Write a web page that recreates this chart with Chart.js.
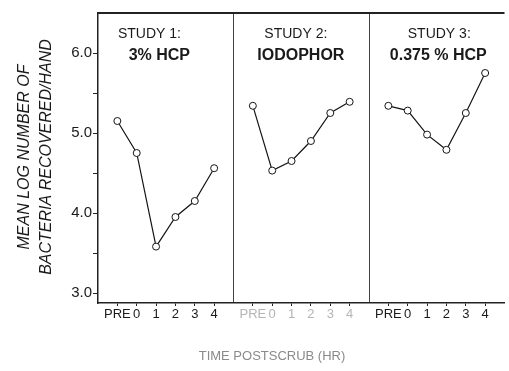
<!DOCTYPE html>
<html><head><meta charset="utf-8">
<script src="https://cdn.jsdelivr.net/npm/chart.js@4"></script>
<style>html,body{margin:0;padding:0;background:#fff;}#wrap{width:509px;height:371px;position:relative;}</style>
</head><body><div id="wrap"><canvas id="c"></canvas></div>
<script>
// ---- data ----
const timeLabels = ["PRE","0","1","2","3","4"];
const study1 = [5.15,4.75,3.58,3.95,4.15,4.56];
const study2 = [5.34,4.53,4.65,4.90,5.25,5.39];
const study3 = [5.34,5.28,4.98,4.79,5.25,5.75];
const panelTitles = ["STUDY 1:","STUDY 2:","STUDY 3:"];
const panelAgents = ["3% HCP","IODOPHOR","0.375 % HCP"];
const yTicks = [3.0,3.5,4.0,4.5,5.0,5.5,6.0];
const yTitle = ["MEAN LOG NUMBER OF","BACTERIA RECOVERED/HAND"];
const xTitle = "TIME POSTSCRUB (HR)";

// ---- layout helpers ----
const SPAN = 7;            // x units per panel (6 points + gap)
const series = [study1, study2, study3];
const FONT = "'Liberation Sans', Arial, sans-serif";
const titleOffsets = [[1.66,2.17],[2.22,2.48],[2.63,2.58]];

const datasets = series.map((s,p)=>({
  data: s.map((v,j)=>({x:p*SPAN+j, y:v})),
  borderColor:'#151515', borderWidth:1.2,
  pointRadius:3.5, pointHoverRadius:3.5,
  pointBackgroundColor:'#fff', pointBorderColor:'#151515', pointBorderWidth:1,
  tension:0, fill:false
}));

const textPlugin = {
  id:'texts',
  afterDraw(chart){
    const ctx = chart.ctx, ca = chart.chartArea, xs = chart.scales.x;
    ctx.save();
    // top border
    ctx.strokeStyle='#222'; ctx.lineWidth=2;
    ctx.beginPath(); ctx.moveTo(ca.left, ca.top); ctx.lineTo(ca.right, ca.top); ctx.stroke();
    // panel titles
    ctx.fillStyle='#1a1a1a'; ctx.textAlign='center'; ctx.textBaseline='alphabetic';
    for(let p=0;p<3;p++){
      ctx.font = "14px "+FONT;
      ctx.fillText(panelTitles[p], xs.getPixelForValue(p*SPAN+titleOffsets[p][0]), ca.top+25);
      ctx.font = "bold 16px "+FONT;
      ctx.fillText(panelAgents[p], xs.getPixelForValue(p*SPAN+titleOffsets[p][1]), ca.top+47);
    }
    // y title
    ctx.font = "italic 16px "+FONT;
    ctx.textBaseline='middle';
    ctx.translate(0, 157); ctx.rotate(-Math.PI/2);
    ctx.fillText(yTitle[0], 0, 25);
    ctx.fillText(yTitle[1], 0, 47);
    ctx.restore();
    // x title
    ctx.save();
    ctx.font = "13px "+FONT; ctx.fillStyle='#8a8a8a';
    ctx.textAlign='center'; ctx.textBaseline='middle';
    ctx.fillText(xTitle, 272, 356);
    ctx.restore();
  }
};

new Chart(document.getElementById('c'), {
  type:'line',
  data:{datasets},
  plugins:[textPlugin],
  options:{
    responsive:true, maintainAspectRatio:false, animation:false,
    layout:{padding:{top:13,left:0,right:0,bottom:0}},
    plugins:{legend:{display:false}, tooltip:{enabled:false}},
    scales:{
      x:{
        type:'linear', min:-1, max:3*SPAN-1,
        afterBuildTicks(scale){
          const t=[];
          for(let p=0;p<3;p++){
            timeLabels.forEach((l,j)=>t.push({value:p*SPAN+j}));
            if(p<2) t.push({value:p*SPAN+6});
          }
          scale.ticks=t;
        },
        afterFit(scale){ scale.height = 68; },
        ticks:{
          autoSkip:false, maxRotation:0, padding:1,
          font:{family:FONT, size:13},
          color:(c)=> (Math.floor(c.tick.value/SPAN)===1 ? '#b5b5b5' : '#1a1a1a'),
          callback:(v)=> { const j=((v%SPAN)+SPAN)%SPAN; return j<timeLabels.length ? timeLabels[j] : ''; }
        },
        grid:{
          drawOnChartArea:true, tickLength:3,
          color:(c)=> (c.tick && c.tick.value%SPAN===6 ? '#444' : 'rgba(0,0,0,0)'),
          tickColor:(c)=> (c.tick && c.tick.value%SPAN===6 ? 'rgba(0,0,0,0)' : '#222'),
          lineWidth:1
        },
        border:{display:true, color:'#222', width:1.5}
      },
      y:{
        type:'linear', min:2.875, max:6.5,
        afterBuildTicks(scale){ scale.ticks = yTicks.map(v=>({value:v})); },
        afterFit(scale){ scale.width = 98; },
        ticks:{
          padding:1, font:{family:FONT, size:15}, color:'#1a1a1a',
          callback:(v)=> Number.isInteger(v) ? v.toFixed(1) : ''
        },
        grid:{drawOnChartArea:false, tickLength:5, tickColor:'#222'},
        border:{display:true, color:'#222', width:1.5}
      }
    }
  }
});
</script>
</body></html>
